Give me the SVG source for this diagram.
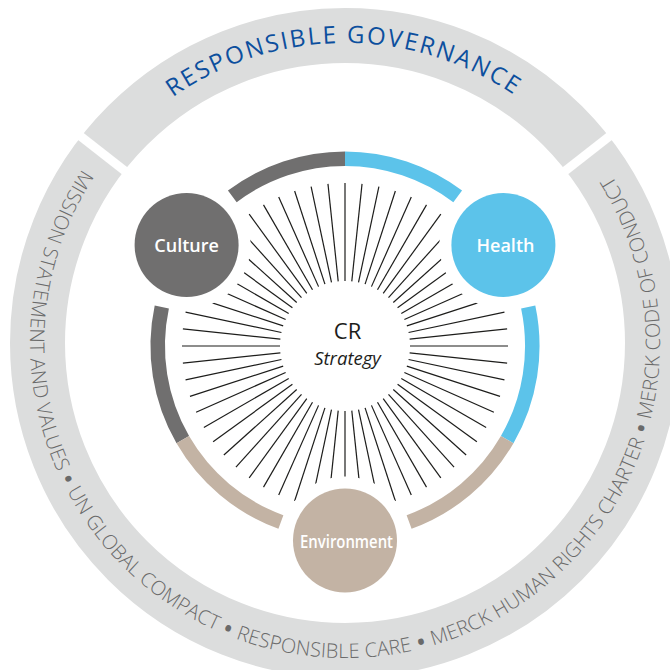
<svg xmlns="http://www.w3.org/2000/svg" xmlns:xlink="http://www.w3.org/1999/xlink" width="670" height="670" viewBox="0 0 670 670">
<style>
.band{fill:none;stroke:#dcdddd;stroke-width:55}
.gap{stroke:#ffffff;stroke-width:9}
.ring{fill:none;stroke-width:14.5}
.gray{stroke:#706f6f}
.blue{stroke:#5cc3ea}
.beige{stroke:#c3b3a4}
.spoke{stroke:#1d1d1b;stroke-width:1.2}
.lbl{font-family:"Open Sans","Noto Sans",sans-serif;font-size:18px;font-weight:600;fill:#ffffff;text-anchor:middle}
.gov{font-family:"Open Sans","Noto Sans",sans-serif;font-size:24px;font-weight:500;fill:#0c4f9e}
.val{font-family:"Open Sans","Noto Sans",sans-serif;font-size:20px;font-weight:300;fill:#6a6a6a}
.dot{font-size:27px;font-weight:400}
.cr{font-family:"Open Sans","Noto Sans",sans-serif;fill:#1d1d1b;text-anchor:middle}
</style>
<defs>
<path id="pTop" d="M172.9,97.2 A300,300 0 0 1 517.1,97.2"/>
<path id="pBot" d="M82.3,169.2 A315,315 0 1 0 608.3,170.1"/>
<line id="sp" class="spoke" x1="65" y1="0" x2="163" y2="0"/>
<mask id="nodeMask" maskUnits="userSpaceOnUse" x="0" y="0" width="670" height="670">
<rect x="0" y="0" width="670" height="670" fill="#ffffff"/>
<circle cx="186.6" cy="245" r="64" fill="#000000"/>
<circle cx="503.4" cy="245" r="64" fill="#000000"/>
<circle cx="345" cy="540.5" r="64" fill="#000000"/>
</mask>
</defs>

<g id="outer-ring">
<circle class="band" cx="345" cy="343" r="307.5"/>
<line class="gap" x1="130.7" y1="175.5" x2="70" y2="128"/>
<line class="gap" x1="559.3" y1="175.5" x2="620" y2="128"/>
<text class="gov"><textPath href="#pTop" xlink:href="#pTop" textLength="362" lengthAdjust="spacing">RESPONSIBLE GOVERNANCE</textPath></text>
<text class="val"><textPath href="#pBot" xlink:href="#pBot" textLength="1350" lengthAdjust="spacing">MISSION STATEMENT AND VALUES <tspan class="dot" dy="3">•</tspan><tspan dy="-3"> UN GLOBAL COMPACT </tspan><tspan class="dot" dy="3">•</tspan><tspan dy="-3"> RESPONSIBLE CARE </tspan><tspan class="dot" dy="3">•</tspan><tspan dy="-3"> MERCK HUMAN RIGHTS CHARTER </tspan><tspan class="dot" dy="3">•</tspan><tspan dy="-3"> MERCK CODE OF CONDUCT</tspan></textPath></text>
</g>

<g id="inner-ring">
<path class="ring gray" d="M182.8,439.65 A187.3,187.3 0 0 1 161.8,307.1"/>
<path class="ring gray" d="M232.3,196.4 A187.3,187.3 0 0 1 345,158.7"/>
<path class="ring blue" d="M345,158.7 A187.3,187.3 0 0 1 457.7,196.4"/>
<path class="ring blue" d="M528.2,307.1 A187.3,187.3 0 0 1 507.2,439.65"/>
<path class="ring beige" d="M507.2,439.65 A187.3,187.3 0 0 1 409.1,522"/>
<path class="ring beige" d="M280.9,522 A187.3,187.3 0 0 1 182.8,439.65"/>
</g>

<g id="connectors" mask="url(#nodeMask)">
<g transform="translate(345,346)">
<use href="#sp" xlink:href="#sp" transform="rotate(0)"/>
<use href="#sp" xlink:href="#sp" transform="rotate(6)"/>
<use href="#sp" xlink:href="#sp" transform="rotate(12)"/>
<use href="#sp" xlink:href="#sp" transform="rotate(18)"/>
<use href="#sp" xlink:href="#sp" transform="rotate(24)"/>
<use href="#sp" xlink:href="#sp" transform="rotate(30)"/>
<use href="#sp" xlink:href="#sp" transform="rotate(36)"/>
<use href="#sp" xlink:href="#sp" transform="rotate(42)"/>
<use href="#sp" xlink:href="#sp" transform="rotate(48)"/>
<use href="#sp" xlink:href="#sp" transform="rotate(54)"/>
<use href="#sp" xlink:href="#sp" transform="rotate(60)"/>
<use href="#sp" xlink:href="#sp" transform="rotate(66)"/>
<use href="#sp" xlink:href="#sp" transform="rotate(72)"/>
<use href="#sp" xlink:href="#sp" transform="rotate(78)"/>
<use href="#sp" xlink:href="#sp" transform="rotate(84)"/>
<use href="#sp" xlink:href="#sp" transform="rotate(90)"/>
<use href="#sp" xlink:href="#sp" transform="rotate(96)"/>
<use href="#sp" xlink:href="#sp" transform="rotate(102)"/>
<use href="#sp" xlink:href="#sp" transform="rotate(108)"/>
<use href="#sp" xlink:href="#sp" transform="rotate(114)"/>
<use href="#sp" xlink:href="#sp" transform="rotate(120)"/>
<use href="#sp" xlink:href="#sp" transform="rotate(126)"/>
<use href="#sp" xlink:href="#sp" transform="rotate(132)"/>
<use href="#sp" xlink:href="#sp" transform="rotate(138)"/>
<use href="#sp" xlink:href="#sp" transform="rotate(144)"/>
<use href="#sp" xlink:href="#sp" transform="rotate(150)"/>
<use href="#sp" xlink:href="#sp" transform="rotate(156)"/>
<use href="#sp" xlink:href="#sp" transform="rotate(162)"/>
<use href="#sp" xlink:href="#sp" transform="rotate(168)"/>
<use href="#sp" xlink:href="#sp" transform="rotate(174)"/>
<use href="#sp" xlink:href="#sp" transform="rotate(180)"/>
<use href="#sp" xlink:href="#sp" transform="rotate(186)"/>
<use href="#sp" xlink:href="#sp" transform="rotate(192)"/>
<use href="#sp" xlink:href="#sp" transform="rotate(198)"/>
<use href="#sp" xlink:href="#sp" transform="rotate(204)"/>
<use href="#sp" xlink:href="#sp" transform="rotate(210)"/>
<use href="#sp" xlink:href="#sp" transform="rotate(216)"/>
<use href="#sp" xlink:href="#sp" transform="rotate(222)"/>
<use href="#sp" xlink:href="#sp" transform="rotate(228)"/>
<use href="#sp" xlink:href="#sp" transform="rotate(234)"/>
<use href="#sp" xlink:href="#sp" transform="rotate(240)"/>
<use href="#sp" xlink:href="#sp" transform="rotate(246)"/>
<use href="#sp" xlink:href="#sp" transform="rotate(252)"/>
<use href="#sp" xlink:href="#sp" transform="rotate(258)"/>
<use href="#sp" xlink:href="#sp" transform="rotate(264)"/>
<use href="#sp" xlink:href="#sp" transform="rotate(270)"/>
<use href="#sp" xlink:href="#sp" transform="rotate(276)"/>
<use href="#sp" xlink:href="#sp" transform="rotate(282)"/>
<use href="#sp" xlink:href="#sp" transform="rotate(288)"/>
<use href="#sp" xlink:href="#sp" transform="rotate(294)"/>
<use href="#sp" xlink:href="#sp" transform="rotate(300)"/>
<use href="#sp" xlink:href="#sp" transform="rotate(306)"/>
<use href="#sp" xlink:href="#sp" transform="rotate(312)"/>
<use href="#sp" xlink:href="#sp" transform="rotate(318)"/>
<use href="#sp" xlink:href="#sp" transform="rotate(324)"/>
<use href="#sp" xlink:href="#sp" transform="rotate(330)"/>
<use href="#sp" xlink:href="#sp" transform="rotate(336)"/>
<use href="#sp" xlink:href="#sp" transform="rotate(342)"/>
<use href="#sp" xlink:href="#sp" transform="rotate(348)"/>
<use href="#sp" xlink:href="#sp" transform="rotate(354)"/>
</g>
</g>

<g id="node-cr">
<text class="cr" x="347.5" y="339" font-size="22">CR</text>
<text class="cr" x="347.5" y="365" font-size="18.5" font-style="italic">Strategy</text>
</g>

<g id="node-culture">
<circle cx="186.6" cy="245" r="52" fill="#706f6f"/>
<text class="lbl" x="186.6" y="251.5">Culture</text>
</g>

<g id="node-health">
<circle cx="503.4" cy="245" r="52" fill="#5cc3ea"/>
<text class="lbl" x="505.5" y="251.5">Health</text>
</g>

<g id="node-environment">
<circle cx="345" cy="540.5" r="52" fill="#c3b3a4"/>
<text class="lbl" x="346.5" y="548" textLength="93" lengthAdjust="spacingAndGlyphs">Environment</text>
</g>
</svg>
